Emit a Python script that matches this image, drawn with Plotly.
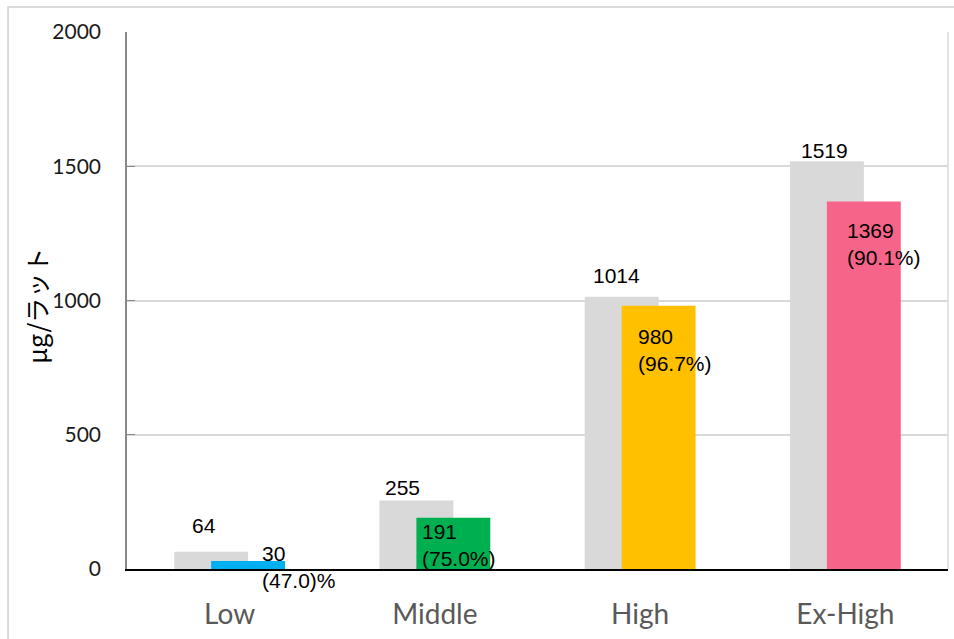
import plotly.graph_objects as go

# ---- data ----
categories = ["Low", "Middle", "High", "Ex-High"]
total_values = [64, 255, 1014, 1519]
retained_values = [30, 191, 980, 1369]
pct_labels = ["(47.0)%", "(75.0%)", "(96.7%)", "(90.1%)"]
y_ticks = [0, 500, 1000, 1500, 2000]
y_title = "μg/ラット"

# ---- styles ----
grey = "#d9d9d9"
bar_colors = ["#00b0f0", "#00b050", "#ffc000", "#f76489"]
bar_w = 0.36
grey_off = -0.27
col_off = -0.09
# per-label pixel nudges (as placed in the original)
total_shift = [(-26, 26), (-32, 13), (-24, 21), (-21, 11)]
ret_shift = [(30, -6), (-15, -27), (-4, -44), (0, -43)]

xs = list(range(len(categories)))

fig = go.Figure()
fig.add_trace(go.Bar(x=xs, y=total_values, width=bar_w, offset=grey_off,
                     marker=dict(color=grey, line=dict(width=0)),
                     hoverinfo="skip", showlegend=False))
fig.add_trace(go.Bar(x=xs, y=retained_values, width=bar_w, offset=col_off,
                     marker=dict(color=bar_colors, line=dict(width=0)),
                     hoverinfo="skip", showlegend=False))

label_font = dict(family="Liberation Sans, Arial, sans-serif", size=21, color="#000000")
annotations = []
for i, (t, r, p) in enumerate(zip(total_values, retained_values, pct_labels)):
    annotations.append(dict(x=i, y=t, xref="x", yref="y", text=str(t), showarrow=False,
                            xanchor="center", yanchor="middle",
                            xshift=total_shift[i][0], yshift=total_shift[i][1],
                            font=label_font))
    annotations.append(dict(x=i, y=r, xref="x", yref="y", text=f"{r}<br>{p}", showarrow=False,
                            xanchor="left", yanchor="middle", align="left",
                            xshift=ret_shift[i][0], yshift=ret_shift[i][1],
                            font=label_font))
annotations.append(dict(x=-0.111, y=0.49, xref="paper", yref="paper", text=y_title,
                        showarrow=False, textangle=-90, xanchor="center", yanchor="middle",
                        font=dict(family="Noto Sans CJK JP, sans-serif", size=25, color="#000000")))

fig.update_layout(
    width=954, height=639,
    margin=dict(l=127, r=6, t=32, b=70),
    paper_bgcolor="white", plot_bgcolor="white",
    barmode="overlay",
    annotations=annotations,
    shapes=[
        dict(type="rect", xref="paper", yref="paper", x0=-0.1449, x1=1.3, y0=-0.4, y1=1.0466,
             line=dict(color="#cfcfcf", width=1.5), layer="below"),
        dict(type="line", xref="paper", yref="paper", x0=1, x1=1, y0=0, y1=1,
             line=dict(color="#d9d9d9", width=1.5)),
    ],
    xaxis=dict(range=[-0.5, 3.5], tickvals=xs, ticktext=categories,
               showline=True, linecolor="#000000", linewidth=1.5,
               showgrid=False, zeroline=False, ticks="",
               tickfont=dict(family="Lato, sans-serif", size=28, color="#595959"),
               ticklabelstandoff=20),
    yaxis=dict(range=[0, 2000], tickvals=y_ticks,
               showline=True, linecolor="#898989", linewidth=1.5,
               showgrid=True, gridcolor="#d9d9d9", gridwidth=1.5,
               zeroline=False, ticks="inside", ticklen=8, tickcolor="#898989",
               tickfont=dict(family="Lato, sans-serif", size=21, color="#1a1a1a"),
               ticklabelstandoff=20),
)

fig.write_html("out.html")
